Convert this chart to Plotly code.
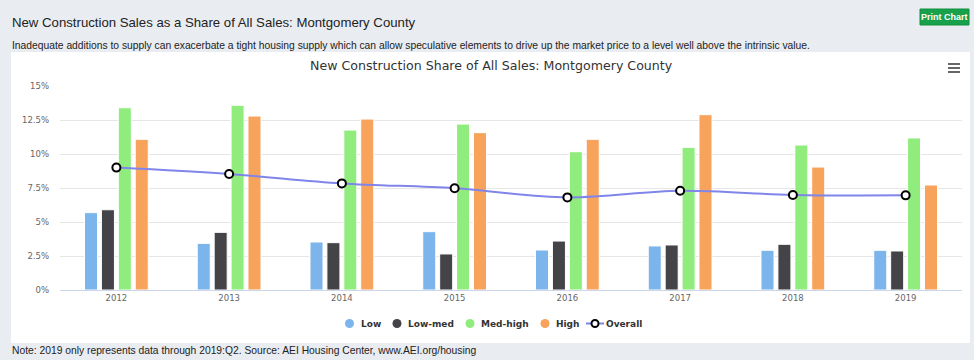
import plotly.graph_objects as go

years = ["2012", "2013", "2014", "2015", "2016", "2017", "2018", "2019"]
low = [5.69, 3.43, 3.53, 4.29, 2.94, 3.24, 2.92, 2.92]
low_med = [5.90, 4.24, 3.48, 2.65, 3.60, 3.31, 3.36, 2.87]
med_high = [13.40, 13.58, 11.76, 12.20, 10.17, 10.49, 10.66, 11.18]
high = [11.08, 12.79, 12.57, 11.57, 11.08, 12.89, 9.04, 7.72]
overall = [9.00, 8.53, 7.84, 7.48, 6.81, 7.30, 6.99, 6.96]

y_ticks = [0, 2.5, 5, 7.5, 10, 12.5, 15]
y_tick_text = ["0%", "2.5%", "5%", "7.5%", "10%", "12.5%", "15%"]

series = [("Low", low, "#7cb5ec"), ("Low-med", low_med, "#434348"),
          ("Med-high", med_high, "#90ed7d"), ("High", high, "#f7a35c")]

W, H = 974, 360
L, R, T, B = 60, 12, 86, 70
pw, ph = W - L - R, H - T - B

def px(x):
    return (x - L) / pw

def py(y):
    return (H - B - y) / ph

fig = go.Figure()
for name, vals, col in series:
    fig.add_trace(go.Bar(x=years, y=vals, name=name,
                         marker=dict(color=col, line=dict(color="white", width=1))))
fig.add_trace(go.Scatter(x=years, y=overall, name="Overall", mode="lines+markers",
                         line=dict(color="#8085e9", width=2, shape="spline"),
                         marker=dict(color="white", size=8, line=dict(color="black", width=2))))

font_page = "Liberation Sans, Arial, sans-serif"
font_chart = "DejaVu Sans, sans-serif"

shapes = [
    dict(type="rect", xref="paper", yref="paper", x0=px(11), x1=px(970), y0=py(343), y1=py(52),
         fillcolor="white", line=dict(width=0), layer="below"),
    dict(type="rect", xref="paper", yref="paper", x0=px(920), x1=px(969), y0=py(25), y1=py(9),
         fillcolor="#17a14b", line=dict(color="#13903f", width=1), layer="above"),
]
for yy in [64, 68, 72]:
    shapes.append(dict(type="line", xref="paper", yref="paper", x0=px(948), x1=px(960), y0=py(yy), y1=py(yy),
                       line=dict(color="#666666", width=2)))

annotations = [
    dict(text="New Construction Sales as a Share of All Sales: Montgomery County", xref="paper", yref="paper",
         x=px(10), y=py(22), xanchor="left", yanchor="middle", showarrow=False,
         font=dict(family=font_page, size=13.2, color="#222222")),
    dict(text="Inadequate additions to supply can exacerbate a tight housing supply which can allow speculative elements to drive up the market price to a level well above the intrinsic value.",
         xref="paper", yref="paper", x=px(10), y=py(45), xanchor="left", yanchor="middle", showarrow=False,
         font=dict(family=font_page, size=10.3, color="#222222")),
    dict(text="<b>Print Chart</b>", xref="paper", yref="paper", x=px(944.5), y=py(17), xanchor="center",
         yanchor="middle", showarrow=False, font=dict(family=font_page, size=9, color="white")),
    dict(text="New Construction Share of All Sales: Montgomery County", xref="paper", yref="paper",
         x=px(491), y=py(66), xanchor="center", yanchor="middle", showarrow=False,
         font=dict(family=font_chart, size=12.6, color="#333333")),
    dict(text="Note: 2019 only represents data through 2019:Q2. Source: AEI Housing Center, www.AEI.org/housing",
         xref="paper", yref="paper", x=px(10), y=py(350), xanchor="left", yanchor="middle", showarrow=False,
         font=dict(family=font_page, size=10.3, color="#222222")),
]

# custom legend (Highcharts-style circles, compact spacing)
leg_y = 323.5
leg_items = [("Low", "#7cb5ec", 349.5), ("Low-med", "#434348", 397), ("Med-high", "#90ed7d", 470),
             ("High", "#f7a35c", 545)]
for name, col, cx in leg_items:
    shapes.append(dict(type="circle", xref="paper", yref="paper", xsizemode="pixel", ysizemode="pixel",
                       xanchor=px(cx), yanchor=py(leg_y), x0=-4.5, x1=4.5, y0=-4.5, y1=4.5,
                       fillcolor=col, line=dict(width=0)))
    annotations.append(dict(text="<b>%s</b>" % name, xref="paper", yref="paper", x=px(cx + 9), y=py(leg_y),
                            xanchor="left", yanchor="middle", showarrow=False,
                            font=dict(family=font_chart, size=9, color="#333333")))
shapes.append(dict(type="line", xref="paper", yref="paper", x0=px(586), x1=px(604), y0=py(leg_y), y1=py(leg_y),
                   line=dict(color="#8085e9", width=2)))
shapes.append(dict(type="circle", xref="paper", yref="paper", xsizemode="pixel", ysizemode="pixel",
                   xanchor=px(595), yanchor=py(leg_y), x0=-3.5, x1=3.5, y0=-3.5, y1=3.5,
                   fillcolor="white", line=dict(color="black", width=2)))
annotations.append(dict(text="<b>Overall</b>", xref="paper", yref="paper", x=px(604), y=py(leg_y),
                        xanchor="left", yanchor="middle", showarrow=False,
                        font=dict(family=font_chart, size=9, color="#333333")))

fig.update_layout(
    width=W, height=H,
    margin=dict(l=L, r=R, t=T, b=B, pad=0),
    paper_bgcolor="#e9ecf1",
    plot_bgcolor="white",
    barmode="group",
    bargap=0.4,
    bargroupgap=0.23,
    showlegend=False,
    shapes=shapes,
    annotations=annotations,
    xaxis=dict(type="category", showgrid=False, showline=True, linecolor="#ccd6eb", linewidth=1,
               ticks="", tickfont=dict(family=font_chart, size=8.5, color="#666666"), fixedrange=True),
    yaxis=dict(range=[0, 15], tickvals=y_ticks, ticktext=y_tick_text, showgrid=True, gridcolor="#e6e6e6",
               gridwidth=1, zeroline=False, showline=False, ticks="", ticklabelstandoff=10,
               tickfont=dict(family=font_chart, size=8.5, color="#666666"), fixedrange=True),
)

fig.write_html("out.html", config={"displayModeBar": False},
               post_script="document.body.style.margin='0';")
